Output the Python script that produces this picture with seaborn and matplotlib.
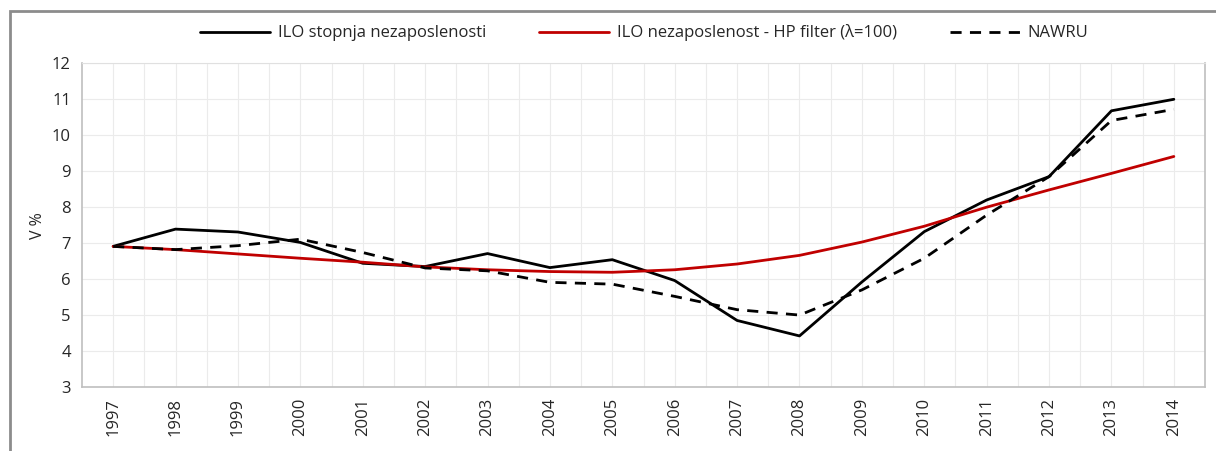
import seaborn as sns
import matplotlib.pyplot as plt
import pandas as pd
from matplotlib.patches import Rectangle

# data
years = list(range(1997, 2015))
ilo_rate = [6.91, 7.39, 7.31, 7.02, 6.44, 6.35, 6.71, 6.32, 6.54, 5.96,
            4.85, 4.42, 5.92, 7.32, 8.20, 8.85, 10.68, 11.0]
hp_trend = [6.91, 6.82, 6.70, 6.58, 6.47, 6.34, 6.26, 6.21, 6.19, 6.26,
            6.42, 6.66, 7.03, 7.47, 8.00, 8.48, 8.94, 9.41]
nawru = [6.91, 6.82, 6.93, 7.11, 6.74, 6.31, 6.23, 5.91, 5.86, 5.52,
         5.15, 5.00, 5.70, 6.58, 7.78, 8.85, 10.41, 10.72]

labels = ["ILO stopnja nezaposlenosti",
          "ILO nezaposlenost - HP filter (λ=100)",
          "NAWRU"]

df = pd.DataFrame({"leto": years, "ilo": ilo_rate, "hp": hp_trend, "nawru": nawru})

sns.set_style("white")
plt.rcParams['font.family'] = ['Open Sans', 'DejaVu Sans']

fig = plt.figure(figsize=(12.16, 4.51), dpi=100)
ax = fig.add_axes([0.0674, 0.1419, 0.9236, 0.7177])

sns.lineplot(data=df, x="leto", y="ilo", ax=ax, color="black", lw=2, label=labels[0])
sns.lineplot(data=df, x="leto", y="hp", ax=ax, color="#C00000", lw=2, label=labels[1])
sns.lineplot(data=df, x="leto", y="nawru", ax=ax, color="black", lw=2,
             dashes=False, label=labels[2])
ax.lines[2].set_dashes([4, 3])

ax.set_xlim(1996.5, 2014.5)
ax.set_ylim(3, 12)
ax.set_yticks(range(3, 13))
ax.set_xticks(years)
ax.set_xticks([y + 0.5 for y in years[:-1]], minor=True)
ax.set_xticklabels([str(y) for y in years], rotation=90, fontsize=12)
ax.tick_params(axis='y', labelsize=12, length=0, pad=8)
ax.tick_params(axis='x', which='both', length=0, pad=8)
ax.grid(True, which='both', color="#ebebeb", lw=0.8)
ax.set_axisbelow(True)

ax.set_xlabel("")
ax.set_ylabel("V %", fontsize=11.5, labelpad=4)

for side in ["left", "bottom", "right"]:
    ax.spines[side].set_color("#bfbfbf")
    ax.spines[side].set_linewidth(1.2)
ax.spines["top"].set_color("#e0e0e0")

ax.get_legend().remove()
handles, lbls = ax.get_legend_handles_labels()
leg = fig.legend(handles, lbls, loc="center", bbox_to_anchor=(0.53, 0.927), ncol=3,
                 frameon=False, fontsize=12, handlelength=4.2, handletextpad=0.45,
                 columnspacing=3.2)
leg.get_lines()[2].set_dashes([4, 3])

# outer chart frame
fig.patches.append(Rectangle((10 / 1216, -0.1), 1.2, 1 - 11 / 451 + 0.1,
                             transform=fig.transFigure, fill=False,
                             edgecolor="#8c8c8c", lw=2))

fig.savefig("out.png", dpi=100)
